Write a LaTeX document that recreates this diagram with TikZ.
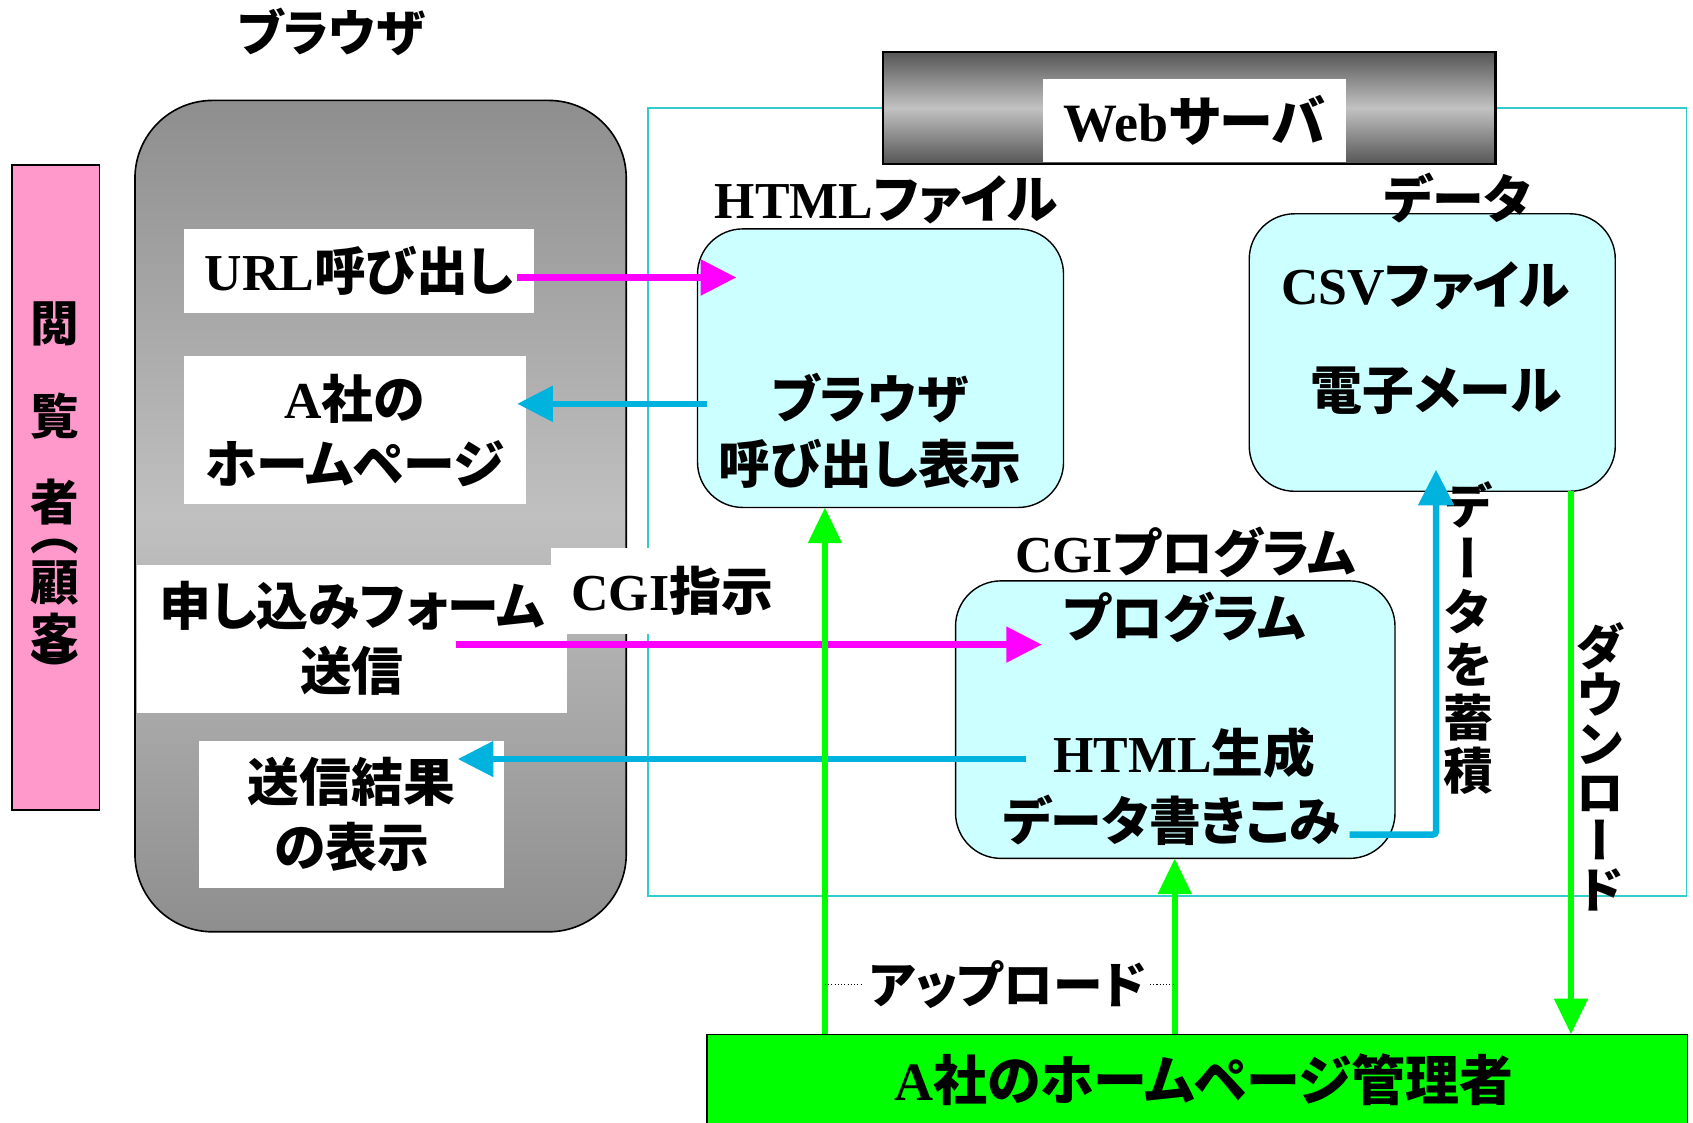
\documentclass[tikz,border=0pt]{standalone}
\usepackage{fontspec}
\setmainfont{Liberation Serif}
\newfontfamily\jp{Noto Sans CJK JP}[RawFeature=+palt]
\newfontfamily\jpv{Noto Sans CJK JP}[RawFeature=+vert]
\usetikzlibrary{arrows.meta}
\definecolor{pinkbar}{HTML}{FF99CC}
\definecolor{lcyan}{HTML}{CCFFFF}
\definecolor{magar}{HTML}{FF00FF}
\definecolor{cyar}{HTML}{00B2DE}
\definecolor{grnar}{HTML}{00FF00}
\definecolor{tealline}{HTML}{33CCCC}
\definecolor{gA}{HTML}{8E8E8E}
\definecolor{gB}{HTML}{C0C0C0}
\definecolor{sA}{HTML}{555555}
\definecolor{sB}{HTML}{C2C2C2}
\newcommand\tb[1]{{\rmfamily\bfseries #1}}
\tikzset{
  every node/.style={inner sep=0pt, outer sep=0pt},
  jtext/.style={font={\jp\bfseries\fontsize{48}{60}\selectfont}, align=center},
  vtext/.style={font={\jpv\bfseries\fontsize{46}{#1}\selectfont}, align=center},
  ptext/.style={font={\jpv\bfseries\fontsize{45}{48}\selectfont}},
  wbox/.style={fill=white, draw=none},
  cybox/.style={draw=black, fill=lcyan, line width=1.3pt, rounded corners=42pt},
  magarrow/.style={draw=magar, line width=6pt, -{Triangle[length=33pt,width=32pt]}},
  cyarrow/.style={draw=cyar, line width=6pt, -{Triangle[length=33pt,width=32pt]}},
  grarrow/.style={draw=grnar, line width=6pt, -{Triangle[length=33pt,width=30pt]}},
}
\begin{document}
\begin{tikzpicture}[x=1pt,y=-1pt]
\useasboundingbox (0,0) rectangle (1568,1040);
\clip (0,0) rectangle (1568,1040);

% title
\node[jtext, font={\jp\bfseries\fontsize{46}{56}\selectfont}] (btitle) at (307,30) {ブラウザ};

% viewer bar
\node[draw, line width=1.5pt, fill=pinkbar, minimum width=81pt, minimum height=597pt] (viewer) at (51.5,451.5) {};
\node[ptext] (v1) at (51,300) {閲};
\node[ptext] (v2) at (51,385) {覧};
\node[ptext] (v3) at (51,465) {者};
\node[ptext] (v4) at (51,506) {（};
\node[ptext] (v5) at (51,540) {顧};
\node[ptext] (v6) at (51,589) {客};
\node[ptext] (v7) at (51,621) {）};

% server area
\node[draw=tealline, line width=1.5pt, minimum width=962pt, minimum height=730pt] (srv) at (1081,465) {};

% browser box
\node[draw, line width=1.5pt, rounded corners=72pt, top color=gA, bottom color=gA, middle color=gB, minimum width=455pt, minimum height=770pt] (browser) at (352.5,478) {};

% web server bar
\node[draw, line width=2pt, top color=sA, bottom color=sA, middle color=sB, minimum width=567pt, minimum height=104pt] (wsbar) at (1101.5,100) {};
\node[wbox, jtext, font={\jp\bfseries\fontsize{50}{60}\selectfont}, minimum width=281pt, minimum height=77pt] (wslabel) at (1106.5,111.5) {\tb{Web}サーバ};

% white boxes in browser
\node[wbox, jtext, minimum width=325pt, minimum height=78pt] (url) at (332.5,251) {\tb{URL}呼び出し};
\node[wbox, jtext, minimum width=317pt, minimum height=137pt] (ahp) at (328.5,398.5) {\tb{A}社の\\ホームページ};
\node[wbox, jtext, minimum width=225pt, minimum height=79pt] (cgiL) at (622.5,547.5) {\tb{CGI}指示};
\node[wbox, jtext, minimum width=398pt, minimum height=137pt] (form) at (326,591.5) {申し込みフォーム\\送信};
\node[wbox, jtext, minimum width=283pt, minimum height=136pt] (res) at (325.5,754) {送信結果\\の表示};

% HTML file
\node[cybox, minimum width=339pt, minimum height=258pt] (html) at (815.5,341) {};
\node[jtext] (htmllbl) at (821,185) {\tb{HTML}ファイル};
\node[jtext] (htmltxt) at (806,399) {ブラウザ\\呼び出し表示};

% data
\node[cybox, minimum width=339pt, minimum height=257pt] (csv) at (1326.5,326.5) {};
\node[jtext] (datalbl) at (1350,183) {データ};
\node[jtext] (csvt) at (1320,265) {\tb{CSV}ファイル};
\node[jtext] (mailt) at (1330,362) {電子メール};

% CGI
\node[cybox, minimum width=407pt, minimum height=257pt] (cgi) at (1088.5,666.5) {};
\node[jtext] (cgilbl) at (1098,512) {\tb{CGI}プログラム};
\node[jtext] (prog) at (1097,572) {プログラム};
\node[jtext] (gen1) at (1097,697) {\tb{HTML}生成};
\node[jtext] (gen2) at (1085,760) {データ書きこみ};

% admin
\node[draw, line width=1.5pt, fill=grnar, minimum width=908pt, minimum height=87pt] (admin) at (1109,1001.5) {};
\node[jtext, font={\jp\bfseries\fontsize{50}{60}\selectfont}] (admint) at (1115,1000) {\tb{A}社のホームページ管理者};

% side labels
\node[jtext, font={\jp\bfseries\fontsize{46}{56}\selectfont}] (upl) at (933,912) {アップロード};
\node[vtext=49] (vstore) at (1360,591) {デ\\ー\\タ\\を\\蓄\\積};
\node[vtext=45] (vdown) at (1482,710) {ダ\\ウ\\ン\\ロ\\ー\\ド};

% arrows
\coordinate (a1s) at (479,257); \coordinate (a1e) at (682,257);
\draw[magarrow] (a1s) -- (a1e);
\coordinate (a2s) at (655,374); \coordinate (a2e) at (479,374);
\draw[cyarrow] (a2s) -- (a2e);
\coordinate (a3s) at (422,597); \coordinate (a3e) at (965,597);
\draw[magarrow] (a3s) -- (a3e);
\coordinate (a4s) at (950,703); \coordinate (a4e) at (424,703);
\draw[cyarrow] (a4s) -- (a4e);
\coordinate (a5s) at (1250,773); \coordinate (a5e) at (1330,435);
\draw[cyarrow, rounded corners=3pt] (a5s) -| (a5e);

\coordinate (x1) at (764,0); \coordinate (x2) at (1088,0); \coordinate (x3) at (1455,0);
\draw[grarrow] (admin.north -| x1) -- (html.south -| x1);
\draw[grarrow] (admin.north -| x2) -- (cgi.south -| x2);
\draw[grarrow] (csv.south -| x3) -- (admin.north -| x3);

\draw[dotted, line width=1pt] (upl.west -| x1) -- ([xshift=-6pt]upl.west);
\draw[dotted, line width=1pt] ([xshift=4pt]upl.east) -- (upl.east -| x2);
\end{tikzpicture}
\end{document}
